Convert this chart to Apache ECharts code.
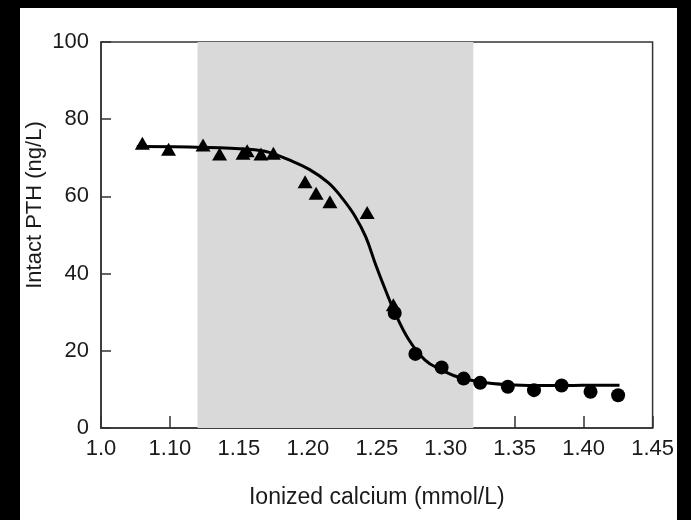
<!DOCTYPE html>
<html>
<head>
<meta charset="utf-8">
<script src="https://cdn.jsdelivr.net/npm/echarts@6/dist/echarts.min.js"></script>
<style>
  html, body { margin: 0; padding: 0; background: #000; }
  #chart { position: absolute; left: 20px; top: 8px; width: 657px; height: 512px; background: #fff; }
</style>
</head>
<body>
<div id="chart"></div>
<script>
// x tick labels (first label reads "1.0" on the original figure)
const xTickLabels = ["1.0", "1.10", "1.15", "1.20", "1.25", "1.30", "1.35", "1.40", "1.45"];

// normal range of ionized calcium (shaded band)
const normalRange = [1.12, 1.32];

// triangles
const triX = [1.080, 1.099, 1.124, 1.136, 1.153, 1.156, 1.166, 1.175, 1.198, 1.206, 1.216, 1.243, 1.262];
const triY = [73.8, 72.2, 73.3, 71.0, 71.2, 71.8, 71.0, 71.2, 63.8, 60.8, 58.6, 55.8, 31.9];

// circles
const circX = [1.263, 1.278, 1.297, 1.313, 1.325, 1.345, 1.364, 1.384, 1.405, 1.425];
const circY = [29.8, 19.2, 15.7, 12.8, 11.7, 10.7, 9.8, 11.0, 9.4, 8.5];

// fitted curve
const curveX = [1.076, 1.124, 1.157, 1.172, 1.186, 1.201, 1.215, 1.225, 1.234, 1.242, 1.249, 1.256, 1.263, 1.273, 1.285, 1.296, 1.309, 1.325, 1.345, 1.366, 1.388, 1.410, 1.426];
const curveY = [72.9, 72.7, 72.2, 71.4, 69.5, 67.0, 63.5, 59.5, 55.0, 49.5, 42.5, 36.0, 30.0, 23.0, 17.6, 15.2, 13.2, 11.9, 11.2, 11.0, 11.0, 11.1, 11.1];

const zip = (xs, ys) => xs.map((x, i) => [x, ys[i]]);

const chart = echarts.init(document.getElementById("chart"));

const textColor = "#1a1a1a";
const fontFamily = "Liberation Sans, Arial, sans-serif";

const options = {
  animation: false,
  grid: {
    left: 81,
    top: 34,
    width: 555,
    height: 386,
    show: true,
    borderColor: "#333",
    borderWidth: 1.5,
  },
  xAxis: {
    type: "value",
    min: 1.05,
    max: 1.45,
    interval: 0.05,
    name: "Ionized calcium (mmol/L)",
    nameLocation: "middle",
    nameGap: 58,
    nameTextStyle: { fontSize: 23, color: textColor, fontFamily },
    axisLine: { lineStyle: { color: "#333", width: 1.5 } },
    axisTick: { inside: true, length: 12, lineStyle: { color: "#333", width: 1.5 } },
    axisLabel: {
      margin: 10,
      fontSize: 22,
      color: textColor,
      fontFamily,
      formatter: (v) => xTickLabels[Math.round((v - 1.05) / 0.05)],
    },
    splitLine: { show: false },
  },
  yAxis: {
    type: "value",
    min: 0,
    max: 100,
    interval: 20,
    axisLine: { show: true, lineStyle: { color: "#333", width: 1.5 } },
    axisTick: { show: true, inside: true, length: 10, lineStyle: { color: "#333", width: 1.5 } },
    axisLabel: { margin: 12, fontSize: 22, color: textColor, fontFamily },
    splitLine: { show: false },
  },
  graphic: [
    {
      type: "text",
      x: 15,
      y: 197,
      rotation: Math.PI / 2,
      style: {
        text: "Intact PTH (ng/L)",
        fontSize: 22,
        fontFamily,
        fill: textColor,
        align: "center",
        verticalAlign: "middle",
      },
    },
  ],
  series: [
    {
      type: "line",
      data: zip(curveX, curveY),
      smooth: 0.4,
      showSymbol: false,
      lineStyle: { color: "#000", width: 3 },
      z: 3,
      markArea: {
        silent: true,
        itemStyle: { color: "#d9d9d9" },
        data: [[{ xAxis: normalRange[0] }, { xAxis: normalRange[1] }]],
      },
    },
    {
      type: "scatter",
      data: zip(triX, triY),
      symbol: "triangle",
      symbolSize: [15, 13],
      itemStyle: { color: "#000", opacity: 1 },
      z: 4,
    },
    {
      type: "scatter",
      data: zip(circX, circY),
      symbol: "circle",
      symbolSize: 14,
      itemStyle: { color: "#000", opacity: 1 },
      z: 4,
    },
  ],
};

chart.setOption(options);
</script>
</body>
</html>
